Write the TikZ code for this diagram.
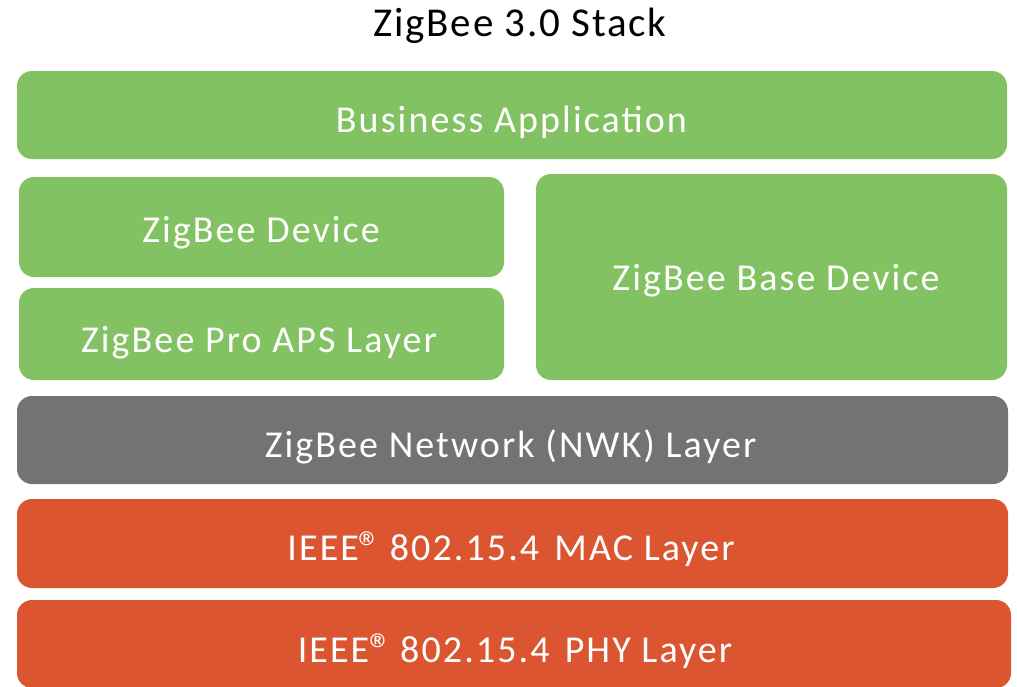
\documentclass[tikz,border=0pt]{standalone}
\usepackage{fontspec}
\setmainfont{Carlito}
\newfontfamily\layerfont[LetterSpace=5.5]{Carlito}
\newfontfamily\titlefont[LetterSpace=4.5]{Carlito}
\definecolor{zgreen}{HTML}{83C262}
\definecolor{zgray}{HTML}{737373}
\definecolor{zorange}{HTML}{DB5530}
\newcommand{\regmark}{{\fontsize{46}{46}\selectfont\raisebox{-3pt}{®}}}
\begin{document}
\begin{tikzpicture}[x=1pt,y=-1pt,
  layer/.style={rounded corners=15pt, inner sep=0pt},
  greenlayer/.style={layer, fill=zgreen},
  graylayer/.style={layer, fill=zgray},
  orangelayer/.style={layer, fill=zorange},
  layertext/.style={anchor=base, inner sep=0pt, text=white,
    font=\layerfont\fontsize{38}{44}\selectfont}]
\useasboundingbox (0,0) rectangle (1017,686);
\node[anchor=base, inner sep=0pt, font=\titlefont\fontsize{41}{48}\selectfont] (title) at (520,36.7) {ZigBee 3.0 Stack};
% boxes
\node[greenlayer, minimum width=990pt, minimum height=88pt] (ba) at (512,115) {};
\node[greenlayer, minimum width=485pt, minimum height=100pt] (zd) at (261.5,227) {};
\node[greenlayer, minimum width=485pt, minimum height=92pt] (aps) at (261.5,334) {};
\node[greenlayer, minimum width=471pt, minimum height=206pt] (bd) at (771.5,277) {};
\node[graylayer, minimum width=991pt, minimum height=88pt] (nwk) at (512.5,440) {};
\node[orangelayer, minimum width=991pt, minimum height=89pt] (mac) at (512.5,543.5) {};
\node[orangelayer, minimum width=994pt, minimum height=88pt] (phy) at (514,644) {};
% labels
\node[layertext] (bat) at (511.5,132) {Business Application};
\node[layertext] (zdt) at (261,242) {ZigBee Device};
\node[layertext] (apst) at (259,352) {ZigBee Pro APS Layer};
\node[layertext] (bdt) at (776,290) {ZigBee Base Device};
\node[layertext] (nwkt) at (510.5,457) {ZigBee Network (NWK) Layer};
\node[layertext] (mact) at (511,560) {IEEE\regmark\hspace{0.2em}802.15.4\hspace{0.4em}MAC Layer};
\node[layertext] (phyt) at (515,662) {IEEE\regmark\hspace{0.2em}802.15.4\hspace{0.4em}PHY Layer};
\end{tikzpicture}
\end{document}
